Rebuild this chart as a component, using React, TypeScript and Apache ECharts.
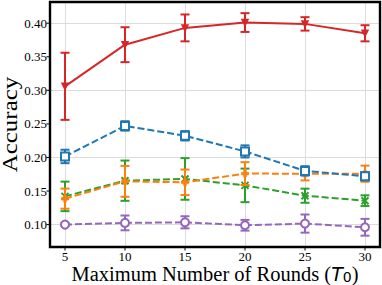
import React, { useEffect, useRef } from "react";
import * as echarts from "echarts";

const rounds = [5, 10, 15, 20, 25, 30];
const xTicks = [5, 10, 15, 20, 25, 30];
const yTicks = [0.1, 0.15, 0.2, 0.25, 0.3, 0.35, 0.4];

const redMean = [0.306, 0.368, 0.393, 0.401, 0.399, 0.385];
const redErr = [0.05, 0.026, 0.02, 0.014, 0.01, 0.012];
const blueMean = [0.2015, 0.247, 0.2323, 0.209, 0.18, 0.172];
const blueErr = [0.01, 0.007, 0.007, 0.009, 0.007, 0.006];
const orangeMean = [0.1386, 0.1644, 0.163, 0.176, 0.1758, 0.1758];
const orangeErr = [0.015, 0.023, 0.019, 0.017, 0.01, 0.012];
const greenMean = [0.142, 0.1654, 0.168, 0.1584, 0.143, 0.1356];
const greenErr = [0.022, 0.03, 0.031, 0.025, 0.0105, 0.008];
const purpleMean = [0.1, 0.1025, 0.1034, 0.099, 0.1015, 0.096];
const purpleErr = [0.002, 0.011, 0.009, 0.008, 0.0135, 0.0125];

const RED = "#d62728";
const BLUE = "#1f77b4";
const ORANGE = "#ff7f0e";
const GREEN = "#2ca02c";
const PURPLE = "#9467bd";

const FONT = "Liberation Serif";
const X_MIN = 3.75;
const X_MAX = 31.25;
const Y_MIN = 0.0666;
const Y_MAX = 0.4316;

function errSeries(mean: number[], err: number[], color: string, z: number) {
  return {
    type: "custom",
    z,
    silent: true,
    data: rounds.map((x, i) => [x, mean[i], err[i]]),
    renderItem: (params: any, api: any) => {
      const x = api.value(0);
      const y = api.value(1);
      const e = api.value(2);
      const t = api.coord([x, y + e]);
      const b = api.coord([x, y - e]);
      const w = 4.5;
      const style = { stroke: color, lineWidth: 2 };
      return {
        type: "group",
        children: [
          { type: "line", shape: { x1: t[0], y1: t[1], x2: b[0], y2: b[1] }, style },
          { type: "line", shape: { x1: t[0] - w, y1: t[1], x2: t[0] + w, y2: t[1] }, style },
          { type: "line", shape: { x1: b[0] - w, y1: b[1], x2: b[0] + w, y2: b[1] }, style },
        ],
      };
    },
  };
}

function lineSeries(
  mean: number[],
  color: string,
  dashed: boolean,
  symbol: string,
  size: number,
  z: number,
  extra: any = {}
) {
  return {
    type: "line",
    z,
    data: rounds.map((x, i) => [x, mean[i]]),
    lineStyle: { color, width: 2, type: dashed ? [7, 3] : "solid" },
    symbol,
    symbolSize: size,
    showSymbol: true,
    itemStyle: { color, borderColor: color, borderWidth: 1.5, ...(extra.itemStyle || {}) },
    symbolRotate: extra.symbolRotate || 0,
  };
}

// frame + outward ticks drawn through the axes' own scales
const frameSeries = {
  type: "custom",
  z: 50,
  silent: true,
  clip: false,
  data: [[X_MIN, Y_MIN, X_MAX, Y_MAX]],
  renderItem: (params: any, api: any) => {
    const p0 = api.coord([X_MIN, Y_MIN]);
    const p1 = api.coord([X_MAX, Y_MAX]);
    const sx = { stroke: "#000", fill: null, lineWidth: 2.4 };
    const st = { stroke: "#000", lineWidth: 1 };
    const children: any[] = [
      {
        type: "rect",
        shape: { x: p0[0], y: p1[1], width: p1[0] - p0[0], height: p0[1] - p1[1] },
        style: sx,
      },
    ];
    xTicks.forEach((v) => {
      const c = api.coord([v, Y_MIN]);
      children.push({ type: "line", shape: { x1: c[0], y1: c[1], x2: c[0], y2: c[1] + 3.5 }, style: st });
    });
    yTicks.forEach((v) => {
      const c = api.coord([X_MIN, v]);
      children.push({ type: "line", shape: { x1: c[0] - 3.5, y1: c[1], x2: c[0], y2: c[1] }, style: st });
    });
    return { type: "group", children };
  },
};

export default function App() {
  const ref = useRef<HTMLDivElement>(null);
  useEffect(() => {
    if (!ref.current) return;
    const chart = echarts.init(ref.current, null, { renderer: "svg" });
    chart.setOption({
      animation: false,
      backgroundColor: "#fff",
      textStyle: { fontFamily: FONT },
      grid: {
        left: 50,
        right: 2,
        top: 2,
        bottom: 38,
        outerBoundsMode: "none",
        containLabel: false,
        show: false,
      },
      graphic: [
        {
          type: "text",
          z: 100,
          silent: true,
          x: 20.5,
          y: 124.5,
          rotation: Math.PI / 2,
          scaleX: 1.25,
          style: {
            text: "Accuracy",
            fontFamily: FONT,
            fontSize: 20,
            fill: "#000",
            textAlign: "center",
            textVerticalAlign: "bottom",
            verticalAlign: "bottom",
          },
        },
      ],
      xAxis: {
        type: "value",
        min: X_MIN,
        max: X_MAX,
        axisLine: { show: false },
        axisTick: { show: false },
        axisLabel: {
          customValues: xTicks,
          fontFamily: FONT,
          fontSize: 13,
          color: "#000",
          margin: 3,
        },
        splitLine: { show: true, lineStyle: { color: "#dcdcdc", width: 1 } },
        name: "{n|Maximum Number of Rounds (}{t|T}{s|0}{n|)}",
        nameLocation: "middle",
        nameGap: 16,
        nameMoveOverlap: false,
        nameTextStyle: {
          verticalAlign: "top",
          rich: {
            n: { fontFamily: FONT, fontSize: 20.5, color: "#000" },
            t: { fontFamily: "DejaVu Sans", fontStyle: "italic", fontSize: 19, color: "#000" },
            s: { fontFamily: "DejaVu Sans", fontSize: 14, color: "#000", padding: [6, 0, 0, 0] },
          },
        },
      },
      yAxis: {
        type: "value",
        min: Y_MIN,
        max: Y_MAX,
        axisLine: { show: false },
        axisTick: { show: false },
        axisLabel: {
          customValues: yTicks,
          formatter: (v: number) => v.toFixed(2),
          fontFamily: FONT,
          fontSize: 13,
          color: "#000",
          margin: 3,
        },
        splitLine: { show: true, lineStyle: { color: "#dcdcdc", width: 1 } },
      },
      series: [
        errSeries(purpleMean, purpleErr, PURPLE, 2),
        lineSeries(purpleMean, PURPLE, true, "emptyCircle", 8, 3),
        errSeries(greenMean, greenErr, GREEN, 4),
        lineSeries(greenMean, GREEN, true, "path://M0,0L10,10M10,0L0,10", 7, 5, {
          itemStyle: { borderWidth: 2 },
        }),
        errSeries(orangeMean, orangeErr, ORANGE, 6),
        lineSeries(
          orangeMean,
          ORANGE,
          true,
          "path://M3,0L7,0L7,3L10,3L10,7L7,7L7,10L3,10L3,7L0,7L0,3L3,3Z",
          7,
          7,
          { itemStyle: { borderWidth: 0.5 } }
        ),
        errSeries(blueMean, blueErr, BLUE, 8),
        lineSeries(blueMean, BLUE, true, "emptyRect", 8, 9),
        errSeries(redMean, redErr, RED, 10),
        lineSeries(redMean, RED, false, "triangle", 6, 11, { symbolRotate: 180 }),
        frameSeries,
      ],
    });
    return () => chart.dispose();
  }, []);
  return (
    <div
      ref={ref}
      style={{ position: "fixed", left: 0, top: 0, width: 382, height: 285 }}
    />
  );
}
